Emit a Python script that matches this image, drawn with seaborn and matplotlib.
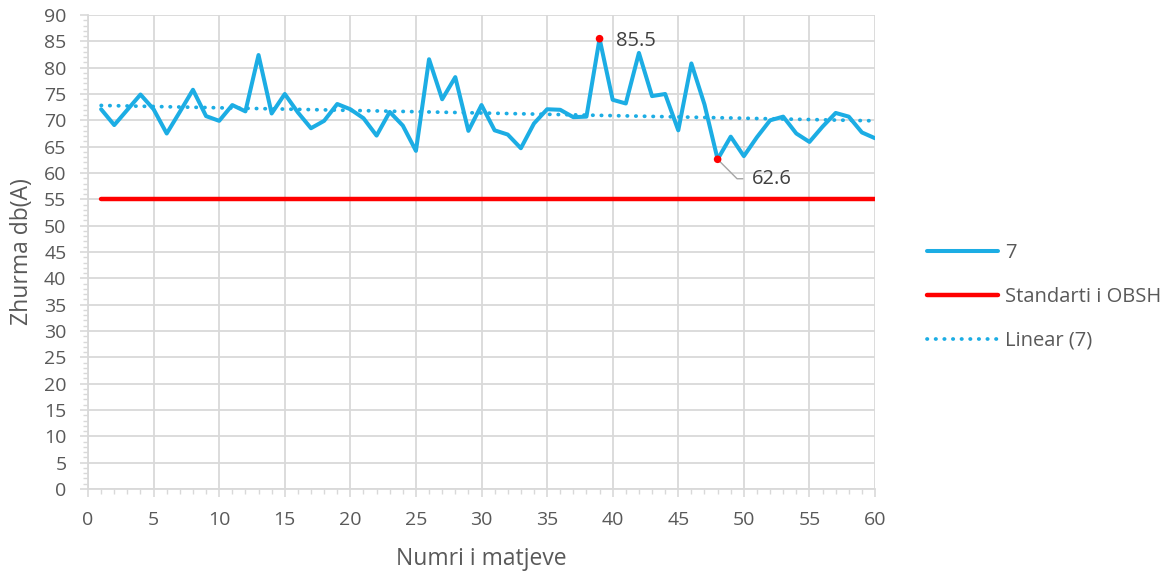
import numpy as np
import pandas as pd
import matplotlib
matplotlib.use("Agg")
import matplotlib.pyplot as plt
from matplotlib.ticker import MultipleLocator
import seaborn as sns

# Noise measurements, dB(A)
measurement_no = list(range(1, 61))
noise_db = [
    72.1, 69.1, 72.0, 74.9, 72.1, 67.5, 71.6, 75.8, 70.8, 69.9,
    72.9, 71.7, 82.4, 71.3, 75.0, 71.5, 68.5, 69.9, 73.1, 72.1,
    70.4, 67.1, 71.6, 69.0, 64.2, 81.6, 74.0, 78.2, 68.0, 72.9,
    68.1, 67.3, 64.7, 69.4, 72.1, 72.0, 70.6, 70.7, 85.5, 73.9,
    73.2, 82.8, 74.6, 75.0, 68.1, 80.8, 73.0, 62.6, 66.9, 63.2,
    66.8, 70.0, 70.7, 67.5, 65.9, 68.8, 71.4, 70.7, 67.7, 66.6,
]
who_standard = 55.0
series_name = "7"
standard_name = "Standarti i OBSH"
trend_name = "Linear (7)"
x_label = "Numri i matjeve"
y_label = "Zhurma db(A)"

BLUE = "#1CADE4"
RED = "#FF0000"
GRID = "#D9D9D9"
TEXT = "#595959"

sns.set_style("white")
plt.rcParams["font.family"] = ["Open Sans", "DejaVu Sans"]

df = pd.DataFrame({"x": measurement_no, "y": noise_db})
df["std"] = who_standard
coef = np.polyfit(df["x"], df["y"], 1)
df["trend"] = np.polyval(coef, df["x"])

fig = plt.figure(figsize=(11.72, 5.72), dpi=100)
ax = fig.add_axes([0.0751, 0.1451, 0.6715, 0.8287])

sns.lineplot(data=df, x="x", y="y", ax=ax, color=BLUE, lw=2.9,
             label=series_name, zorder=4)
sns.lineplot(data=df, x="x", y="std", ax=ax, color=RED, lw=3.2,
             label=standard_name, zorder=3)
sns.lineplot(data=df, x="x", y="trend", ax=ax, color=BLUE, lw=2.7,
             linestyle=(0, (0.1, 2.2)), dash_capstyle="round",
             label=trend_name, zorder=3)

# highlight max and min
i_max = int(np.argmax(noise_db))
i_min = int(np.argmin(noise_db))
for i in (i_max, i_min):
    ax.scatter(measurement_no[i], noise_db[i], s=30, color=RED, zorder=6,
               edgecolors="none")
ax.annotate(f"{noise_db[i_max]:.1f}", (measurement_no[i_max], noise_db[i_max]),
            xytext=(12, -2), textcoords="offset points", va="center",
            ha="left", fontsize=14.5, color="#404040")
ax.annotate(f"{noise_db[i_min]:.1f}", (measurement_no[i_min], noise_db[i_min]),
            xytext=(24.5, -14), textcoords="offset points", va="center",
            ha="left", fontsize=14.5, color="#404040",
            arrowprops=dict(arrowstyle="-", color="#A6A6A6", lw=1,
                            connectionstyle="angle,angleA=0,angleB=-45,rad=0",
                            shrinkA=4, shrinkB=2))

ax.set_xlim(0, 60)
ax.set_ylim(0, 90)
ax.xaxis.set_major_locator(MultipleLocator(5))
ax.xaxis.set_minor_locator(MultipleLocator(1))
ax.yaxis.set_major_locator(MultipleLocator(5))
ax.yaxis.set_minor_locator(MultipleLocator(1))
ax.grid(True, which="major", color=GRID, lw=1.3)
ax.set_axisbelow(True)
for side in ("top", "right"):
    ax.spines[side].set_visible(False)
for side in ("left", "bottom"):
    ax.spines[side].set_color(GRID)
    ax.spines[side].set_linewidth(1.3)
ax.tick_params(which="both", direction="out", color=GRID, labelcolor=TEXT,
               labelsize=14, bottom=True, left=True)
ax.tick_params(which="major", length=5.5, width=1.2)
ax.tick_params(which="minor", length=3.5, width=1)
ax.tick_params(axis="x", which="major", pad=10.5)
ax.tick_params(axis="y", which="major", pad=10)
ax.set_xlabel(x_label, fontsize=16.5, color=TEXT)
ax.set_ylabel(y_label, fontsize=16.5, color=TEXT)
ax.xaxis.set_label_coords(0.5, -0.122)
ax.yaxis.set_label_coords(-0.069, 0.5)

leg = ax.legend(loc="center left", bbox_to_anchor=(1.056, 0.405),
                frameon=False, fontsize=14.5, handlelength=3.5,
                handletextpad=0.35, labelspacing=1.17, borderaxespad=0)
for t in leg.get_texts():
    t.set_color(TEXT)

fig.savefig("out.png", dpi=100)
